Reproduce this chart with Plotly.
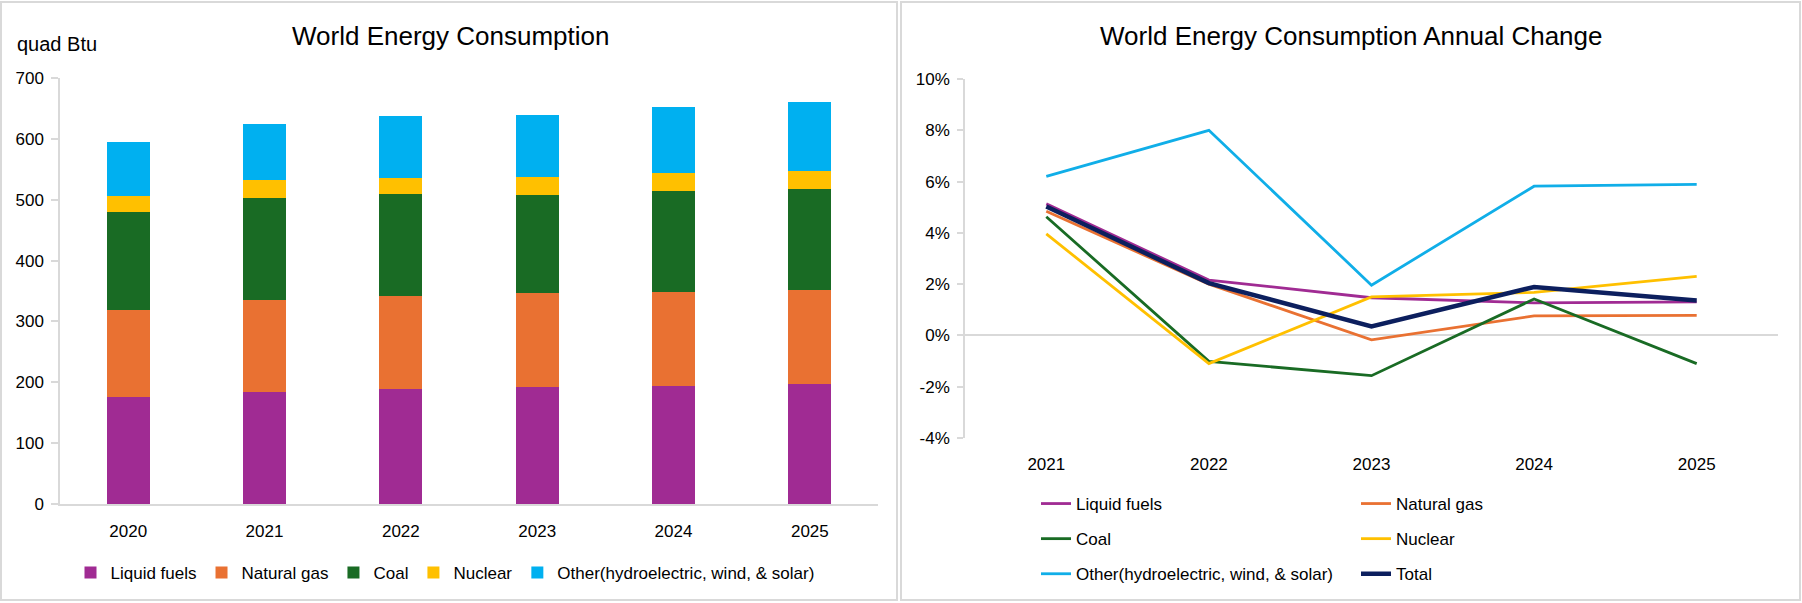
import plotly.graph_objects as go

# ---------------- data ----------------
years_bar = ["2020", "2021", "2022", "2023", "2024", "2025"]
liquid_fuels = [176.5, 184, 189.7, 193, 194.6, 197]
natural_gas = [142.5, 151.5, 152.3, 153, 154, 155]
coal = [161, 167.5, 168, 162, 166.3, 165]
nuclear = [26.6, 29, 26, 30, 29.4, 29.6]
other = [88.4, 93, 102, 102, 108.6, 114.4]

years_chg = ["2021", "2022", "2023", "2024", "2025"]
chg_liquid = [0.0513, 0.0216, 0.0147, 0.0127, 0.0131]
chg_gas = [0.0484, 0.0200, -0.0017, 0.0076, 0.0078]
chg_coal = [0.0463, -0.0101, -0.0157, 0.0142, -0.0110]
chg_nuclear = [0.0396, -0.0110, 0.0150, 0.0168, 0.0230]
chg_other = [0.0620, 0.0800, 0.0196, 0.0582, 0.0589]
chg_total = [0.0503, 0.0204, 0.0035, 0.0189, 0.0136]

pct_tick_vals = [-0.04, -0.02, 0.0, 0.02, 0.04, 0.06, 0.08, 0.10]
pct_tick_text = ["-4%", "-2%", "0%", "2%", "4%", "6%", "8%", "10%"]

names = ["Liquid fuels", "Natural gas", "Coal", "Nuclear",
         "Other(hydroelectric, wind, & solar)", "Total"]
colors = ["#a02b93", "#e97132", "#196b24", "#ffc000", "#00b0f0", "#0c1f5e"]
line_colors = ["#a02b93", "#e97132", "#196b24", "#ffc000", "#10aee8", "#0c1f5e"]

W, H = 1802, 603
FONT = "Liberation Sans, Arial, sans-serif"
GRAY = "#d9d9d9"


def px_x(v):
    return v / W


def px_y(v):
    return (H - v) / H


fig = go.Figure()

bar_series = [liquid_fuels, natural_gas, coal, nuclear, other]
for i, vals in enumerate(bar_series):
    fig.add_trace(go.Bar(
        x=years_bar, y=vals, name=names[i], marker_color=colors[i],
        marker_line_width=0, xaxis="x", yaxis="y", legend="legend",
    ))

line_series = [chg_liquid, chg_gas, chg_coal, chg_nuclear, chg_other, chg_total]
legend_for = ["legend2", "legend3", "legend2", "legend3", "legend2", "legend3"]
for i, vals in enumerate(line_series):
    fig.add_trace(go.Scatter(
        x=years_chg, y=vals, name=names[i], mode="lines",
        line=dict(color=line_colors[i], width=4.5 if i == 5 else 2.8),
        xaxis="x2", yaxis="y2", legend=legend_for[i], legendgroup=names[i],
    ))

fig.update_layout(
    width=W, height=H,
    margin=dict(l=0, r=0, t=0, b=0, autoexpand=False),
    paper_bgcolor="white", plot_bgcolor="white",
    font=dict(family=FONT, size=17, color="#000000"),
    barmode="stack", bargap=0.685,
    showlegend=True,
    xaxis=dict(
        domain=[px_x(60), px_x(878)], anchor="y", type="category",
        showline=True, linecolor=GRAY, linewidth=1.5, ticks="",
        showgrid=False, zeroline=False, ticklabelstandoff=11,
        tickfont=dict(size=17), automargin=False,
    ),
    yaxis=dict(
        domain=[px_y(504), px_y(78)], anchor="x", range=[0, 700], dtick=100,
        showline=True, linecolor=GRAY, linewidth=1.5, ticks="outside",
        ticklen=7, tickcolor=GRAY, tickwidth=1.5, showgrid=False, zeroline=False,
        ticklabelstandoff=4, tickfont=dict(size=17), automargin=False,
    ),
    xaxis2=dict(
        domain=[px_x(965), px_x(1778)], anchor="y2", type="category",
        range=[-0.5, 4.5],
        showline=False, ticks="", showgrid=False, zeroline=False,
        ticklabelstandoff=14, tickfont=dict(size=17), automargin=False,
    ),
    yaxis2=dict(
        domain=[px_y(438), px_y(79)], anchor="x2", range=[-0.04, 0.10],
        tickmode="array", tickvals=pct_tick_vals, ticktext=pct_tick_text,
        showline=True, linecolor=GRAY,
        linewidth=1.5, ticks="outside", ticklen=6, tickcolor=GRAY, tickwidth=1.5,
        showgrid=False, zeroline=True, zerolinecolor=GRAY, zerolinewidth=2,
        ticklabelstandoff=4, tickfont=dict(size=17), automargin=False,
    ),
    legend=dict(
        orientation="h", x=px_x(445), xanchor="center", y=px_y(573),
        yanchor="middle", font=dict(size=17), bgcolor="rgba(0,0,0,0)",
        traceorder="normal", itemclick=False, itemdoubleclick=False,
    ),
    legend2=dict(
        orientation="v", x=px_x(1036), xanchor="left", y=px_y(486),
        yanchor="top", font=dict(size=17), bgcolor="rgba(0,0,0,0)",
        tracegroupgap=10, itemclick=False, itemdoubleclick=False,
    ),
    legend3=dict(
        orientation="v", x=px_x(1356), xanchor="left", y=px_y(486),
        yanchor="top", font=dict(size=17), bgcolor="rgba(0,0,0,0)",
        tracegroupgap=10, itemclick=False, itemdoubleclick=False,
    ),
    annotations=[
        dict(text="World Energy Consumption", x=px_x(450), y=px_y(36),
             xref="paper", yref="paper", showarrow=False,
             xanchor="center", yanchor="middle", font=dict(size=26)),
        dict(text="World Energy Consumption Annual Change", x=px_x(1351),
             y=px_y(36), xref="paper", yref="paper", showarrow=False,
             xanchor="center", yanchor="middle", font=dict(size=26)),
        dict(text="quad Btu", x=px_x(15), y=px_y(44), xref="paper",
             yref="paper", showarrow=False, xanchor="left", yanchor="middle",
             font=dict(size=20)),
    ],
    shapes=[
        dict(type="rect", xref="paper", yref="paper", x0=px_x(1), x1=px_x(897),
             y0=px_y(600), y1=px_y(2), line=dict(color=GRAY, width=2)),
        dict(type="rect", xref="paper", yref="paper", x0=px_x(901), x1=px_x(1800),
             y0=px_y(600), y1=px_y(2), line=dict(color=GRAY, width=2)),
    ],
)

fig.write_html(
    "out.html",
    config={"displayModeBar": False},
    post_script="document.body.style.margin='0px';document.body.style.overflow='hidden';",
)
